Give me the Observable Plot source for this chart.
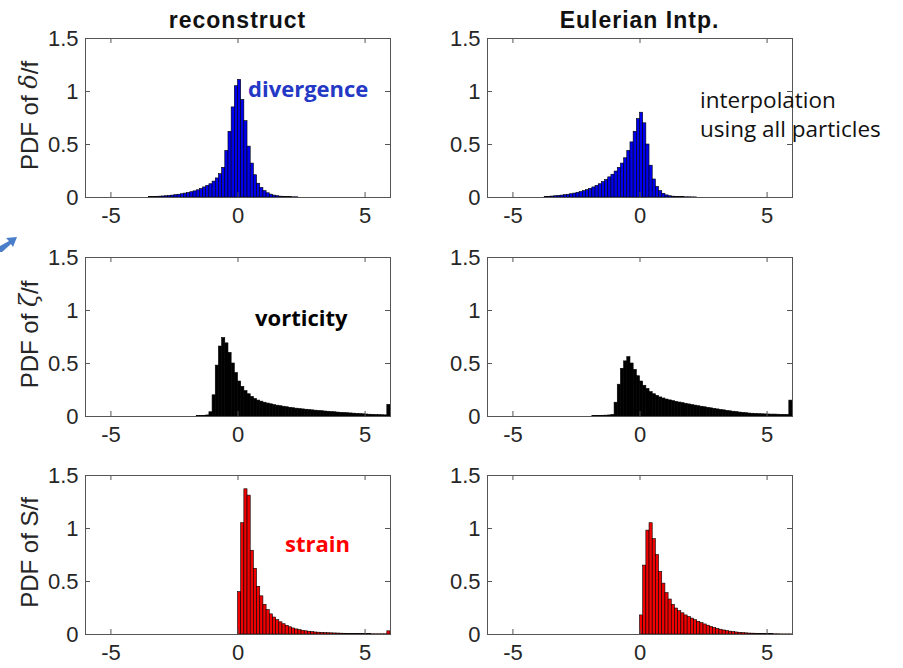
<!DOCTYPE html>
<html><head><meta charset="utf-8">
<script src="https://cdn.jsdelivr.net/npm/d3@7"></script>
<script src="https://cdn.jsdelivr.net/npm/@observablehq/plot@0.6"></script>
<style>
body{margin:0;background:#fff;}
#fig{position:relative;width:903px;height:668px;overflow:hidden;background:#fff;}
.panel{position:absolute;}
#overlay{position:absolute;left:0;top:0;pointer-events:none;}
</style></head><body><div id="fig"></div>
<script>
// ---- data ----
const binWidth = 0.125;
const xTicks = [-5, 0, 5];
const yTicks = [0, 0.5, 1, 1.5];
const columnTitles = ["reconstruct", "Eulerian Intp."];

// divergence, reconstruct (bin lower edges start at divReconStart)
const divReconStart = -3.5;
const divRecon = [0.003,0.004,0.006,0.008,0.010,0.012,0.015,0.018,0.022,0.026,0.031,0.037,0.043,0.050,0.058,0.068,0.080,0.095,0.110,0.125,0.150,0.180,0.220,0.280,0.440,0.620,0.850,1.050,1.110,0.920,0.720,0.480,0.320,0.210,0.130,0.090,0.060,0.040,0.027,0.018,0.012,0.008,0.006,0.004,0.003,0.002,0.002];

// divergence, Eulerian
const divEulerStart = -3.75;
const divEuler = [0.005,0.007,0.009,0.012,0.015,0.018,0.022,0.026,0.031,0.037,0.044,0.052,0.060,0.070,0.082,0.095,0.110,0.125,0.145,0.165,0.190,0.215,0.245,0.280,0.320,0.370,0.440,0.520,0.620,0.740,0.800,0.700,0.500,0.300,0.170,0.100,0.060,0.035,0.020,0.012,0.008,0.005,0.004,0.003,0.002,0.002,0.001,0.001];

// vorticity, reconstruct
const vorReconStart = -1.625;
const vorRecon = [0.003,0.004,0.006,0.010,0.040,0.200,0.480,0.660,0.740,0.690,0.600,0.500,0.410,0.330,0.280,0.240,0.210,0.185,0.165,0.150,0.140,0.130,0.122,0.115,0.108,0.102,0.097,0.092,0.087,0.082,0.078,0.074,0.070,0.067,0.064,0.061,0.058,0.055,0.052,0.050,0.047,0.045,0.042,0.040,0.037,0.035,0.033,0.031,0.029,0.027,0.025,0.023,0.021,0.019,0.017,0.016,0.014,0.013,0.012,0.011,0.110];

// vorticity, Eulerian
const vorEulerStart = -1.875;
const vorEuler = [0.004,0.005,0.006,0.007,0.008,0.010,0.015,0.130,0.300,0.450,0.520,0.560,0.500,0.440,0.380,0.330,0.290,0.260,0.230,0.210,0.195,0.180,0.170,0.160,0.152,0.145,0.138,0.132,0.126,0.120,0.114,0.108,0.103,0.097,0.092,0.087,0.082,0.077,0.072,0.067,0.062,0.058,0.053,0.049,0.045,0.041,0.037,0.034,0.031,0.028,0.026,0.024,0.022,0.021,0.020,0.019,0.018,0.018,0.017,0.016,0.016,0.015,0.150];

// strain, reconstruct
const strReconStart = 0;
const strRecon = [0.400,1.050,1.370,1.310,0.790,0.620,0.450,0.360,0.280,0.230,0.190,0.160,0.135,0.115,0.097,0.082,0.068,0.057,0.048,0.041,0.035,0.030,0.026,0.022,0.019,0.017,0.015,0.013,0.012,0.011,0.010,0.009,0.008,0.007,0.006,0.006,0.005,0.004,0.004,0.003,0.003,0.003,0.002,0.002,0.002,0.002,0.002,0.030];

// strain, Eulerian
const strEulerStart = 0;
const strEuler = [0.180,0.650,0.980,1.050,0.900,0.750,0.590,0.480,0.390,0.330,0.280,0.245,0.220,0.200,0.180,0.165,0.150,0.135,0.120,0.107,0.095,0.083,0.072,0.062,0.053,0.045,0.038,0.032,0.027,0.023,0.019,0.016,0.013,0.011,0.009,0.008,0.007,0.006,0.005,0.004,0.003,0.003,0.002,0.002,0.001,0.001,0.001,0.001];

// ---- layout ----
const FW = 305, FH = 159;            // frame size
const ML = 60, MR = 12, MT = 10, MB = 42;
const colLeft = [85, 487];
const rowTop = [38, 257, 475];
const fig = document.getElementById("fig");

function bins(start, heights) {
  return heights.map((h, i) => ({x1: start + i * binWidth, x2: start + (i + 1) * binWidth, y: h}));
}

function panel(start, heights, fill, col, row) {
  const data = bins(start, heights);
  const p = Plot.plot({
    width: FW + ML + MR, height: FH + MT + MB,
    marginLeft: ML, marginRight: MR, marginTop: MT, marginBottom: MB,
    x: {domain: [-6, 6]},
    y: {domain: [0, 1.5]},
    style: {fontFamily: "'Liberation Sans', Arial, Helvetica, sans-serif", fontSize: "22px", color: "#262626", background: "transparent", overflow: "visible"},
    marks: [
      Plot.rectY(data, {x1: "x1", x2: "x2", y: "y", fill, stroke: "#000", strokeWidth: 0.6}),
      Plot.frame({stroke: "#555", strokeWidth: 1}),
      Plot.tickX(xTicks, {insetTop: FH - 5, stroke: "#555"}),
      Plot.tickX(xTicks, {insetBottom: FH - 5, stroke: "#555"}),
      Plot.tickY(yTicks, {insetRight: FW - 5, stroke: "#555"}),
      Plot.tickY(yTicks, {insetLeft: FW - 5, stroke: "#555"}),
      Plot.axisX(xTicks, {anchor: "bottom", tickSize: 0, tickPadding: 10, tickFormat: d => String(d), label: null}),
      Plot.axisY(yTicks, {anchor: "left", tickSize: 0, tickPadding: 7, tickFormat: d => String(d), label: null})
    ]
  });
  p.classList.add("panel");
  p.style.left = (colLeft[col] - ML) + "px";
  p.style.top = (rowTop[row] - MT) + "px";
  fig.appendChild(p);
}

panel(divReconStart, divRecon, "#0000ee", 0, 0);
panel(divEulerStart, divEuler, "#0000ee", 1, 0);
panel(vorReconStart, vorRecon, "#000", 0, 1);
panel(vorEulerStart, vorEuler, "#000", 1, 1);
panel(strReconStart, strRecon, "#f00000", 0, 2);
panel(strEulerStart, strEuler, "#f00000", 1, 2);

// ---- text overlay ----
const svg = d3.select(fig).append("svg").attr("id", "overlay").attr("width", 903).attr("height", 668);
const sans = "'Liberation Sans', Arial, Helvetica, sans-serif";
const calib = "'Open Sans', 'Noto Sans', sans-serif";

columnTitles.forEach((t, i) => {
  svg.append("text").attr("x", colLeft[i] + FW / 2).attr("y", 28)
    .attr("text-anchor", "middle").attr("font-family", sans).attr("font-weight", "bold")
    .attr("font-size", 23).attr("letter-spacing", "1px").attr("fill", "#111").text(t);
});

const ylab = [["δ"], ["ζ"], ["S"]];
ylab.forEach((v, r) => {
  const t = svg.append("text")
    .attr("transform", `translate(29,${rowTop[r] + FH / 2 - 2}) rotate(-90)`)
    .attr("text-anchor", "middle").attr("dominant-baseline", "central")
    .attr("font-family", sans).attr("font-size", 24).attr("fill", "#262626");
  t.append("tspan").text("PDF of ");
  const s = t.append("tspan").text(v[0]);
  if (r < 2) s.attr("font-style", "italic").attr("font-family", "'DejaVu Serif', serif");
  t.append("tspan").text("/f");
});

svg.append("text").attr("x", 248).attr("y", 97).attr("font-family", calib).attr("font-weight", "bold")
  .attr("font-size", 22).attr("fill", "#2438c6").text("divergence");
svg.append("text").attr("x", 255).attr("y", 326).attr("font-family", calib).attr("font-weight", "bold")
  .attr("font-size", 22).attr("fill", "#000").text("vorticity");
svg.append("text").attr("x", 285).attr("y", 552).attr("font-family", calib).attr("font-weight", "bold")
  .attr("font-size", 22).attr("fill", "#ff0000").text("strain");
svg.append("text").attr("x", 700).attr("y", 108).attr("font-family", calib)
  .attr("font-size", 22.5).attr("fill", "#111").text("interpolation");
svg.append("text").attr("x", 700).attr("y", 137).attr("font-family", calib)
  .attr("font-size", 22.5).attr("fill", "#111").text("using all particles");

// partial arrow head at the left edge (slide decoration)
svg.append("polygon").attr("points", "0,246 9,241 6,238 17,237 13,247 11,244 2,252 0,252").attr("fill", "#4a7ec9");
</script>
</body></html>
